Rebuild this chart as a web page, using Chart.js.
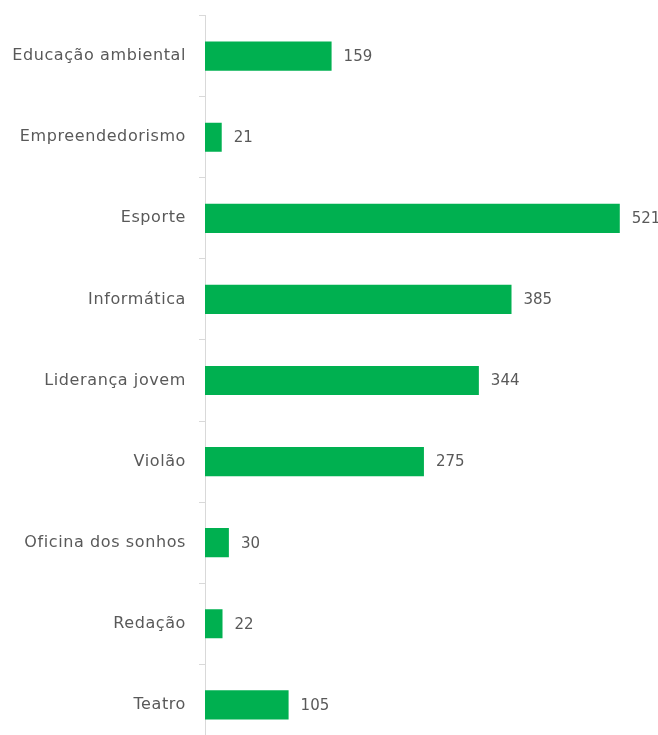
<!DOCTYPE html>
<html><head><meta charset="utf-8">
<script src="https://cdn.jsdelivr.net/npm/chart.js@4/dist/chart.umd.min.js"></script>
<style>
html,body{margin:0;padding:0;overflow:hidden;background:#fff;width:658px;height:735px}
#wrap{position:absolute;left:0;top:-7px;width:658px;height:775px}
</style></head><body>
<div id="wrap"><canvas id="c"></canvas></div>
<script>
const categories = ["Educação ambiental","Empreendedorismo","Esporte","Informática","Liderança jovem","Violão","Oficina dos sonhos","Redação","Teatro"];
const values = [159,21,521,385,344,275,30,22,105];
const FONT = "'DejaVu Sans', sans-serif";
const spacingPlugin = {
  id:'spacing',
  beforeDraw(chart){ chart.ctx.letterSpacing = '0.6px'; },
  afterDraw(chart){ chart.ctx.letterSpacing = '0px'; }
};
const labelPlugin = {
  id:'vals',
  afterDatasetsDraw(chart){
    const ctx = chart.ctx;
    const meta = chart.getDatasetMeta(0);
    ctx.save();
    ctx.letterSpacing = '0px';
    ctx.font = "15px " + FONT;
    ctx.fillStyle = "#595959";
    ctx.textAlign = "left";
    ctx.textBaseline = "middle";
    meta.data.forEach((bar,i)=>{
      ctx.fillText(String(values[i]), bar.x + 12, bar.y + 1);
    });
    ctx.restore();
  }
};
new Chart(document.getElementById('c'),{
  type:'bar',
  data:{labels:categories,datasets:[{data:values,backgroundColor:'#00B050',borderWidth:0,barPercentage:0.36,categoryPercentage:1}]},
  options:{
    indexAxis:'y',responsive:true,maintainAspectRatio:false,animation:false,
    layout:{padding:{top:8,right:0,bottom:0,left:0}},
    plugins:{legend:{display:false},tooltip:{enabled:false}},
    scales:{
      x:{display:false,min:0,max:569},
      y:{
        afterFit(s){s.width=205;},
        grid:{drawOnChartArea:false,drawTicks:true,tickLength:6,color:'#d9d9d9',offset:true},
        border:{display:true,color:'#d9d9d9',width:1},
        ticks:{padding:13,color:'#595959',font:{family:FONT,size:16}}
      }
    }
  },
  plugins:[spacingPlugin,labelPlugin]
});
</script></body></html>
